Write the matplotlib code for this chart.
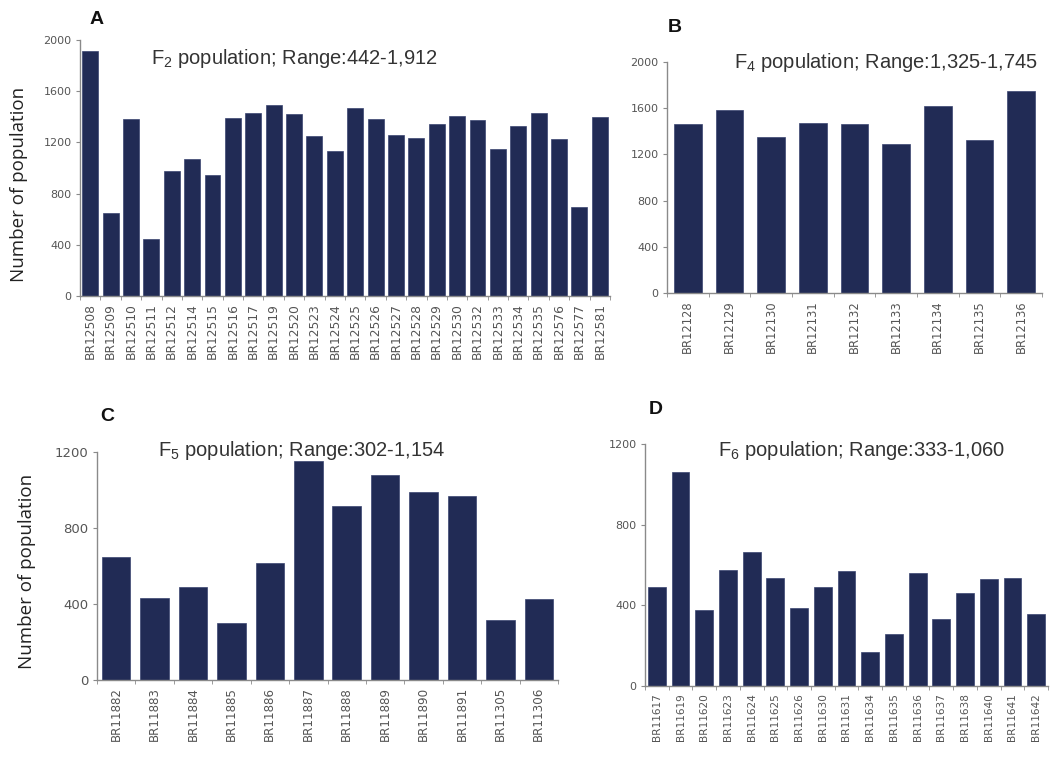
import matplotlib
matplotlib.use("Agg")
import matplotlib.pyplot as plt
import numpy as np

plt.rcParams['font.family'] = ['Liberation Sans', 'DejaVu Sans']
plt.rcParams['mathtext.fontset'] = 'custom'
plt.rcParams['mathtext.rm'] = 'Liberation Sans'

BAR = '#212b55'
GREY = '#555555'
SPINE = '#8a8a8a'

# panel A - F2
f2_names = ['BR12508', 'BR12509', 'BR12510', 'BR12511', 'BR12512', 'BR12514', 'BR12515',
            'BR12516', 'BR12517', 'BR12519', 'BR12520', 'BR12523', 'BR12524', 'BR12525',
            'BR12526', 'BR12527', 'BR12528', 'BR12529', 'BR12530', 'BR12532', 'BR12533',
            'BR12534', 'BR12535', 'BR12576', 'BR12577', 'BR12581']
f2_vals = [1912, 651, 1385, 442, 977, 1070, 948, 1393, 1430, 1495, 1424, 1253, 1133,
           1471, 1380, 1260, 1237, 1341, 1406, 1375, 1151, 1325, 1427, 1229, 693, 1396]

# panel B - F4
f4_names = ['BR12128', 'BR12129', 'BR12130', 'BR12131', 'BR12132', 'BR12133',
            'BR12134', 'BR12135', 'BR12136']
f4_vals = [1466, 1584, 1348, 1472, 1460, 1287, 1616, 1328, 1745]

# panel C - F5
f5_names = ['BR11882', 'BR11883', 'BR11884', 'BR11885', 'BR11886', 'BR11887',
            'BR11888', 'BR11889', 'BR11890', 'BR11891', 'BR11305', 'BR11306']
f5_vals = [648, 433, 489, 302, 618, 1154, 918, 1081, 990, 967, 315, 428]

# panel D - F6
f6_names = ['BR11617', 'BR11619', 'BR11620', 'BR11623', 'BR11624', 'BR11625',
            'BR11626', 'BR11630', 'BR11631', 'BR11634', 'BR11635', 'BR11636',
            'BR11637', 'BR11638', 'BR11640', 'BR11641', 'BR11642']
f6_vals = [489, 1060, 379, 575, 664, 537, 388, 489, 570, 167, 258, 559,
           333, 460, 529, 537, 355]

W, H = 1059, 757
fig = plt.figure(figsize=(W / 100, H / 100), dpi=100)


def px_axes(x0, y0, x1, y1):
    # pixel box (left, top, right, bottom) -> figure fraction axes
    return fig.add_axes([x0 / W, 1 - y1 / H, (x1 - x0) / W, (y1 - y0) / H])


def panel(ax, names, vals, ymax, yticks, width, ysize, xsize):
    x = np.arange(len(names))
    ax.bar(x, vals, width=width, color=BAR, edgecolor='#3a4470', linewidth=0.5)
    ax.set_xlim(-0.5, len(names) - 0.5)
    ax.set_ylim(0, ymax)
    ax.set_yticks(yticks)
    ax.set_yticklabels([str(t) for t in yticks], fontsize=ysize, color=GREY,
                       family='DejaVu Sans')
    ax.set_xticks(x)
    ax.set_xticklabels(names, rotation=90, fontsize=xsize, color=GREY,
                       family='DejaVu Sans')
    ax.set_xticks(np.arange(len(names) + 1) - 0.5, minor=True)
    ax.tick_params(axis='x', which='major', length=0, pad=5)
    ax.tick_params(axis='x', which='minor', length=3, color=SPINE, direction='out')
    ax.tick_params(axis='y', length=3, color=SPINE, direction='out', pad=3)
    for s in ['top', 'right']:
        ax.spines[s].set_visible(False)
    for s in ['left', 'bottom']:
        ax.spines[s].set_color(SPINE)
        ax.spines[s].set_linewidth(1.0)


def ftext(x, y, s, **kw):
    fig.text(x / W, 1 - y / H, s, **kw)


axA = px_axes(80, 40, 610, 296)
panel(axA, f2_names, f2_vals, 2000, [0, 400, 800, 1200, 1600, 2000], 0.78, 8, 8.8)
axB = px_axes(667, 62, 1042, 293)
panel(axB, f4_names, f4_vals, 2000, [0, 400, 800, 1200, 1600, 2000], 0.66, 8, 8.3)
axC = px_axes(97, 452, 558, 680)
panel(axC, f5_names, f5_vals, 1200, [0, 400, 800, 1200], 0.74, 9.5, 8.6)
axD = px_axes(645, 444, 1048, 686)
panel(axD, f6_names, f6_vals, 1200, [0, 400, 800, 1200], 0.75, 8, 7.6)

tstyle = dict(fontsize=14.5, color='#333333', ha='center', va='center')
ftext(294, 58, r'F$_2$ population; Range:442-1,912', **tstyle)
ftext(886, 62, r'F$_4$ population; Range:1,325-1,745', **tstyle)
ftext(302, 451, r'F$_5$ population; Range:302-1,154', **tstyle)
ftext(862, 451, r'F$_6$ population; Range:333-1,060', **tstyle)

lstyle = dict(fontsize=14, fontweight='bold', color='#111111', ha='left', va='center')
ftext(90, 19, 'A', **lstyle)
ftext(668, 28, 'B', **lstyle)
ftext(100, 417, 'C', **lstyle)
ftext(649, 409, 'D', **lstyle)

ystyle = dict(fontsize=13.5, color='#222222', rotation=90, ha='center', va='center',
              family=['Open Sans', 'DejaVu Sans'])
ftext(19, 184, 'Number of population', **ystyle)
ftext(27, 571, 'Number of population', **ystyle)

fig.savefig('out.png', dpi=100, facecolor='white')
